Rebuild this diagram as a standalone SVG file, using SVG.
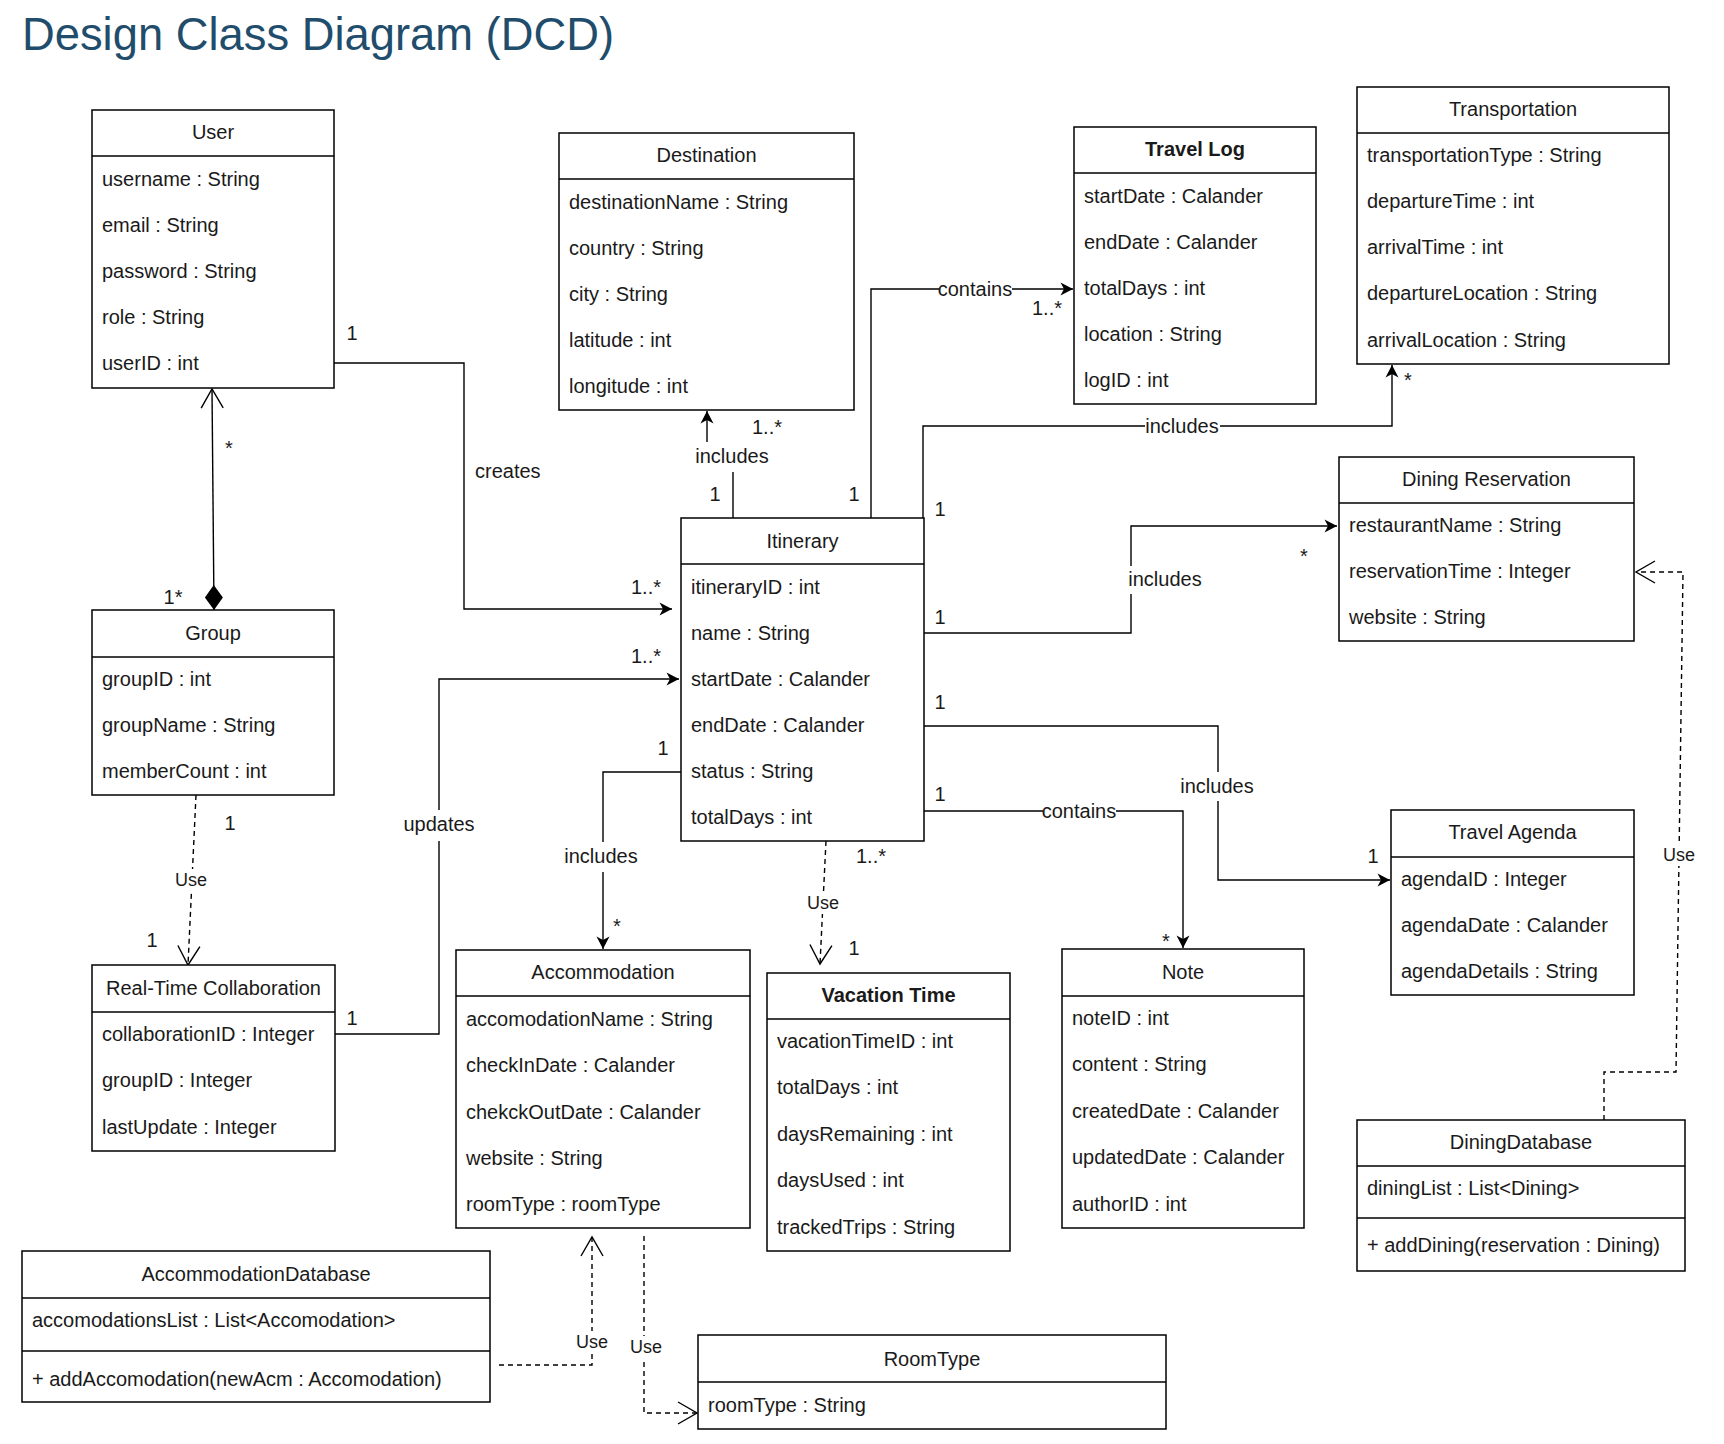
<svg xmlns="http://www.w3.org/2000/svg" width="1724" height="1444" viewBox="0 0 1724 1444">
<style>
  .box{fill:#fff;stroke:#000;stroke-width:1.5}
  .sep{stroke:#000;stroke-width:1.5}
  text{font-family:"Liberation Sans",Arial,Helvetica,sans-serif;font-size:20px;fill:#1a1a1a}
  .hd{text-anchor:middle}
  .b{font-weight:bold}
  .ln{fill:none;stroke:#000;stroke-width:1.4}
  .dash{fill:none;stroke:#000;stroke-width:1.4;stroke-dasharray:5 4}
  .lbl{text-anchor:middle}
  .use{text-anchor:middle;font-size:18px}
  .bg{fill:#fff}
  .main{font-size:45.5px;fill:#1F4D6B}
</style>
<defs>
  <marker id="fa" markerUnits="userSpaceOnUse" markerWidth="13" markerHeight="13" refX="12.5" refY="6.5" orient="auto" overflow="visible">
    <path d="M0,0 L12.5,6.5 L0,13 L3.5,6.5 Z" fill="#000"/>
  </marker>
  <marker id="oa" markerUnits="userSpaceOnUse" markerWidth="20" markerHeight="22" refX="19" refY="11" orient="auto" overflow="visible">
    <path d="M0,0 L19,11 L0,22" fill="none" stroke="#000" stroke-width="1.4"/>
  </marker>
  <marker id="dm" markerUnits="userSpaceOnUse" markerWidth="25" markerHeight="18" refX="0" refY="9" orient="auto" overflow="visible">
    <path d="M0,9 L12.5,0 L25,9 L12.5,18 Z" fill="#000"/>
  </marker>
</defs>
<rect width="1724" height="1444" fill="#fff"/>
<text class="main" x="22" y="50" textLength="592" lengthAdjust="spacingAndGlyphs">Design Class Diagram (DCD)</text>

<g id="connectors">
  <path class="ln" d="M334,363 H464 V609 H672" marker-end="url(#fa)"/>
  <path class="ln" d="M335,1034 H439 V679 H679" marker-end="url(#fa)"/>
  <path class="ln" d="M214,610 L212,389" marker-start="url(#dm)" marker-end="url(#oa)"/>
  <path class="dash" d="M196,795 L188,965" marker-end="url(#oa)"/>
  <path class="ln" d="M733,518 V456 H707 V411" marker-end="url(#fa)"/>
  <path class="ln" d="M871,518 V289 H1073" marker-end="url(#fa)"/>
  <path class="ln" d="M923,518 V426 H1392 V365" marker-end="url(#fa)"/>
  <path class="ln" d="M924,633 H1131 V526 H1337" marker-end="url(#fa)"/>
  <path class="ln" d="M924,726 H1218 V880 H1390" marker-end="url(#fa)"/>
  <path class="ln" d="M924,811 H1183 V948" marker-end="url(#fa)"/>
  <path class="ln" d="M681,772 H603 V949" marker-end="url(#fa)"/>
  <path class="dash" d="M826,841 L820,964" marker-end="url(#oa)"/>
  <path class="dash" d="M499,1365 H592 V1237" marker-end="url(#oa)"/>
  <path class="dash" d="M644,1236 V1413 H697" marker-end="url(#oa)"/>
  <path class="dash" d="M1604,1120 V1072 H1676 L1683,572 H1636" marker-end="url(#oa)"/>

  <!-- label backgrounds -->
  <rect class="bg" x="692" y="442" width="81" height="30"/>
  <rect class="bg" x="939" y="280" width="73" height="18"/>
  <rect class="bg" x="1145" y="417" width="75" height="18"/>
  <rect class="bg" x="1127" y="566" width="77" height="28"/>
  <rect class="bg" x="1179" y="772" width="77" height="29"/>
  <rect class="bg" x="1043" y="802" width="73" height="18"/>
  <rect class="bg" x="563" y="842" width="77" height="30"/>
  <rect class="bg" x="403" y="810" width="72" height="31"/>
  <rect class="bg" x="174" y="869" width="34" height="22"/>
  <rect class="bg" x="806" y="892" width="34" height="22"/>
  <rect class="bg" x="575" y="1331" width="34" height="22"/>
  <rect class="bg" x="629" y="1336" width="34" height="22"/>
  <rect class="bg" x="1662" y="844" width="34" height="22"/>

  <!-- labels -->
  <text x="352" y="340" class="lbl">1</text>
  <text x="475" y="478">creates</text>
  <text x="646" y="594" class="lbl">1..*</text>
  <text x="646" y="663" class="lbl">1..*</text>
  <text x="439" y="831" class="lbl">updates</text>
  <text x="352" y="1025" class="lbl">1</text>
  <text x="229" y="455" class="lbl">*</text>
  <text x="173" y="604" class="lbl">1*</text>
  <text x="230" y="830" class="lbl">1</text>
  <text x="191" y="886" class="use">Use</text>
  <text x="152" y="947" class="lbl">1</text>
  <text x="732" y="463" class="lbl">includes</text>
  <text x="767" y="434" class="lbl">1..*</text>
  <text x="715" y="501" class="lbl">1</text>
  <text x="975" y="296" class="lbl">contains</text>
  <text x="1047" y="315" class="lbl">1..*</text>
  <text x="854" y="501" class="lbl">1</text>
  <text x="1182" y="433" class="lbl">includes</text>
  <text x="1408" y="387" class="lbl">*</text>
  <text x="940" y="516" class="lbl">1</text>
  <text x="1165" y="586" class="lbl">includes</text>
  <text x="1304" y="563" class="lbl">*</text>
  <text x="940" y="624" class="lbl">1</text>
  <text x="1217" y="793" class="lbl">includes</text>
  <text x="940" y="709" class="lbl">1</text>
  <text x="1373" y="863" class="lbl">1</text>
  <text x="1079" y="818" class="lbl">contains</text>
  <text x="940" y="801" class="lbl">1</text>
  <text x="1166" y="948" class="lbl">*</text>
  <text x="601" y="863" class="lbl">includes</text>
  <text x="663" y="755" class="lbl">1</text>
  <text x="617" y="933" class="lbl">*</text>
  <text x="823" y="909" class="use">Use</text>
  <text x="871" y="863" class="lbl">1..*</text>
  <text x="854" y="955" class="lbl">1</text>
  <text x="592" y="1348" class="use">Use</text>
  <text x="646" y="1353" class="use">Use</text>
  <text x="1679" y="861" class="use">Use</text>
</g>

<g id="user">
  <rect class="box" x="92" y="110" width="242" height="278"/>
  <line class="sep" x1="92" y1="156" x2="334" y2="156"/>
  <text class="hd" x="213" y="139">User</text>
  <text x="102" y="186">username : String</text>
  <text x="102" y="232">email : String</text>
  <text x="102" y="278">password : String</text>
  <text x="102" y="324">role : String</text>
  <text x="102" y="370">userID : int</text>
</g>

<g id="destination">
  <rect class="box" x="559" y="133" width="295" height="277"/>
  <line class="sep" x1="559" y1="179" x2="854" y2="179"/>
  <text class="hd" x="706.5" y="162">Destination</text>
  <text x="569" y="209">destinationName : String</text>
  <text x="569" y="255">country : String</text>
  <text x="569" y="301">city : String</text>
  <text x="569" y="347">latitude : int</text>
  <text x="569" y="393">longitude : int</text>
</g>

<g id="travel-log">
  <rect class="box" x="1074" y="127" width="242" height="277"/>
  <line class="sep" x1="1074" y1="173" x2="1316" y2="173"/>
  <text class="hd b" x="1195" y="156">Travel Log</text>
  <text x="1084" y="203">startDate : Calander</text>
  <text x="1084" y="249">endDate : Calander</text>
  <text x="1084" y="295">totalDays : int</text>
  <text x="1084" y="341">location : String</text>
  <text x="1084" y="387">logID : int</text>
</g>

<g id="transportation">
  <rect class="box" x="1357" y="87" width="312" height="277"/>
  <line class="sep" x1="1357" y1="133" x2="1669" y2="133"/>
  <text class="hd" x="1513" y="116">Transportation</text>
  <text x="1367" y="162">transportationType : String</text>
  <text x="1367" y="208">departureTime : int</text>
  <text x="1367" y="254">arrivalTime : int</text>
  <text x="1367" y="300">departureLocation : String</text>
  <text x="1367" y="347">arrivalLocation : String</text>
</g>

<g id="dining-reservation">
  <rect class="box" x="1339" y="457" width="295" height="184"/>
  <line class="sep" x1="1339" y1="503" x2="1634" y2="503"/>
  <text class="hd" x="1486.5" y="486">Dining Reservation</text>
  <text x="1349" y="532">restaurantName : String</text>
  <text x="1349" y="578">reservationTime : Integer</text>
  <text x="1349" y="624">website : String</text>
</g>

<g id="itinerary">
  <rect class="box" x="681" y="518" width="243" height="323"/>
  <line class="sep" x1="681" y1="564" x2="924" y2="564"/>
  <text class="hd" x="802.5" y="548">Itinerary</text>
  <text x="691" y="594">itineraryID : int</text>
  <text x="691" y="640">name : String</text>
  <text x="691" y="686">startDate : Calander</text>
  <text x="691" y="732">endDate : Calander</text>
  <text x="691" y="778">status : String</text>
  <text x="691" y="824">totalDays : int</text>
</g>

<g id="group">
  <rect class="box" x="92" y="610" width="242" height="185"/>
  <line class="sep" x1="92" y1="657" x2="334" y2="657"/>
  <text class="hd" x="213" y="640">Group</text>
  <text x="102" y="686">groupID : int</text>
  <text x="102" y="732">groupName : String</text>
  <text x="102" y="778">memberCount : int</text>
</g>

<g id="real-time-collaboration">
  <rect class="box" x="92" y="965" width="243" height="186"/>
  <line class="sep" x1="92" y1="1012" x2="335" y2="1012"/>
  <text class="hd" x="213.5" y="995">Real-Time Collaboration</text>
  <text x="102" y="1041">collaborationID : Integer</text>
  <text x="102" y="1087">groupID : Integer</text>
  <text x="102" y="1134">lastUpdate : Integer</text>
</g>

<g id="accommodation">
  <rect class="box" x="456" y="950" width="294" height="278"/>
  <line class="sep" x1="456" y1="996" x2="750" y2="996"/>
  <text class="hd" x="603" y="979">Accommodation</text>
  <text x="466" y="1026">accomodationName : String</text>
  <text x="466" y="1072">checkInDate : Calander</text>
  <text x="466" y="1119">chekckOutDate : Calander</text>
  <text x="466" y="1165">website : String</text>
  <text x="466" y="1211">roomType : roomType</text>
</g>

<g id="vacation-time">
  <rect class="box" x="767" y="973" width="243" height="278"/>
  <line class="sep" x1="767" y1="1019" x2="1010" y2="1019"/>
  <text class="hd b" x="888.5" y="1002">Vacation Time</text>
  <text x="777" y="1048">vacationTimeID : int</text>
  <text x="777" y="1094">totalDays : int</text>
  <text x="777" y="1141">daysRemaining : int</text>
  <text x="777" y="1187">daysUsed : int</text>
  <text x="777" y="1234">trackedTrips : String</text>
</g>

<g id="note">
  <rect class="box" x="1062" y="949" width="242" height="279"/>
  <line class="sep" x1="1062" y1="996" x2="1304" y2="996"/>
  <text class="hd" x="1183" y="979">Note</text>
  <text x="1072" y="1025">noteID : int</text>
  <text x="1072" y="1071">content : String</text>
  <text x="1072" y="1118">createdDate : Calander</text>
  <text x="1072" y="1164">updatedDate : Calander</text>
  <text x="1072" y="1211">authorID : int</text>
</g>

<g id="travel-agenda">
  <rect class="box" x="1391" y="810" width="243" height="185"/>
  <line class="sep" x1="1391" y1="857" x2="1634" y2="857"/>
  <text class="hd" x="1512.5" y="839">Travel Agenda</text>
  <text x="1401" y="886">agendaID : Integer</text>
  <text x="1401" y="932">agendaDate : Calander</text>
  <text x="1401" y="978">agendaDetails : String</text>
</g>

<g id="accommodation-database">
  <rect class="box" x="22" y="1251" width="468" height="151"/>
  <line class="sep" x1="22" y1="1298" x2="490" y2="1298"/>
  <line class="sep" x1="22" y1="1351" x2="490" y2="1351"/>
  <text class="hd" x="256" y="1281">AccommodationDatabase</text>
  <text x="32" y="1327">accomodationsList : List&lt;Accomodation&gt;</text>
  <text x="32" y="1386">+ addAccomodation(newAcm : Accomodation)</text>
</g>

<g id="dining-database">
  <rect class="box" x="1357" y="1120" width="328" height="151"/>
  <line class="sep" x1="1357" y1="1166" x2="1685" y2="1166"/>
  <line class="sep" x1="1357" y1="1218" x2="1685" y2="1218"/>
  <text class="hd" x="1521" y="1149">DiningDatabase</text>
  <text x="1367" y="1195">diningList : List&lt;Dining&gt;</text>
  <text x="1367" y="1252">+ addDining(reservation : Dining)</text>
</g>

<g id="room-type">
  <rect class="box" x="698" y="1335" width="468" height="94"/>
  <line class="sep" x1="698" y1="1382" x2="1166" y2="1382"/>
  <text class="hd" x="932" y="1366">RoomType</text>
  <text x="708" y="1412">roomType : String</text>
</g>
</svg>
